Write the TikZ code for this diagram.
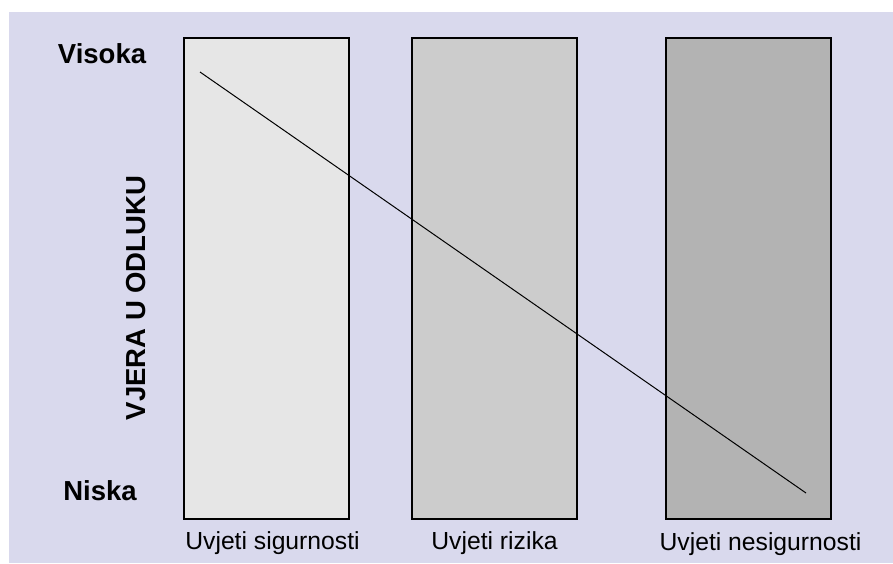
\documentclass[tikz,border=0pt]{standalone}
\usepackage{fontspec}
\setmainfont{Liberation Sans}
\usetikzlibrary{positioning}
\usepackage{xcolor}
\definecolor{bglav}{RGB}{217,217,237}
\definecolor{boxlight}{RGB}{230,230,230}
\definecolor{boxmid}{RGB}{204,204,204}
\definecolor{boxdark}{RGB}{179,179,179}

\begin{document}
\begin{tikzpicture}[x=1pt, y=-1pt,
  cond/.style={draw, line width=2pt, minimum width=165pt, minimum height=481pt, inner sep=0pt},
  capt/.style={font=\fontsize{24.7}{28}\selectfont, inner sep=0pt},
  lev/.style={font=\bfseries\fontsize{27.5}{30}\selectfont, inner sep=0pt, anchor=base}
]

% Frame
\useasboundingbox (0,0) rectangle (893,563);
\fill[bglav] (9,12) rectangle (893,563);

% Boxes
\node[cond, fill=boxlight] (sig) at (266.5,278.5) {};
\node[cond, fill=boxmid, right=61pt of sig] (riz) {};
\node[cond, fill=boxdark, right=87pt of riz] (nes) {};

% Captions
\node[capt, below=11pt of sig, xshift=6pt] (csig) {Uvjeti sigurnosti};
\node[capt, below=11pt of riz] (criz) {Uvjeti rizika};
\node[capt, below=12pt of nes, xshift=12pt] (cnes) {Uvjeti nesigurnosti};

% Axis labels
\node[lev] (vis) at (102,63) {Visoka};
\node[lev] (nis) at (100,500) {Niska};
\node[font=\bfseries\fontsize{27.5}{30}\selectfont, rotate=90] (vjera) at (136,298) {VJERA U ODLUKU};

% Diagonal
\coordinate (hi) at (200,72);
\coordinate (lo) at (806,493);
\draw[line width=1pt] (hi) -- (lo);

\end{tikzpicture}
\end{document}
